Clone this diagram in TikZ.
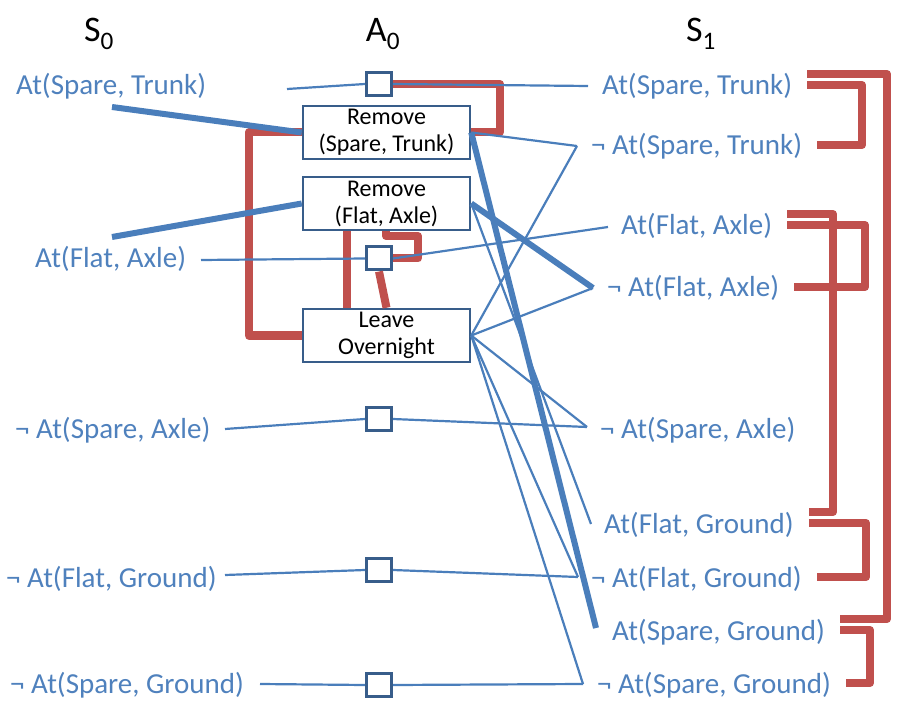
\documentclass[tikz,border=0pt]{standalone}
\usepackage{fontspec}
\setmainfont{Carlito}
\definecolor{azul}{HTML}{4A7EBB}
\definecolor{azultexto}{HTML}{4F81BD}
\definecolor{azulcaja}{HTML}{385D8A}
\definecolor{rojo}{HTML}{C0504D}
\begin{document}
\begin{tikzpicture}[x=1pt,y=-1pt]
\useasboundingbox (0,0) rectangle (913,727);
% estilos de linea y relleno
\tikzstyle{enlace} = [azul,line width=2.2pt];
\tikzstyle{enlacegr} = [azul,line width=6pt];
\tikzstyle{mutex} = [rojo,line width=8pt,line join=round];
\tikzstyle{nivel} = [font=\fontsize{36}{40}\selectfont,anchor=base];
\tikzstyle{literal} = [azultexto,font=\fontsize{29}{33}\selectfont,inner sep=0pt,anchor=base west];
\tikzstyle{accion} = [draw=azulcaja,line width=2.5pt,fill=white,minimum width=167pt,minimum height=53pt,align=center,font=\fontsize{24}{27}\selectfont,inner sep=0pt];
\tikzstyle{persist} = [draw=azulcaja,line width=3pt,fill=white,minimum width=25pt,minimum height=23pt,inner sep=0pt];
% definicion exclusion mutua entre literales de S1
% #1: nodo inicial
% #2: nodo final
% #3: abscisa del tramo vertical
% #4: separacion vertical respecto a la linea base
\newcommand{\mutexder}[4]{
\path (#1.base east) ++(15,#4) coordinate (A);
\path (#2.base east) ++(15,#4) coordinate (B);
\draw [mutex] (A) -- (#3,0 |- A) -- (#3,0 |- B) -- (B);
 }
% dibujar niveles
\node[nivel] (s0) at (99,42) {S\textsubscript{0}};
\node[nivel] (a0) at (383,42) {A\textsubscript{0}};
\node[nivel] (s1) at (701,42) {S\textsubscript{1}};
% dibujar literales de S0
\node[literal] (s0st) at (16,95) {At(Spare, Trunk)};
\node[literal] (s0fa) at (35,268) {At(Flat, Axle)};
\node[literal] (s0nsa) at (15,438) {¬ At(Spare, Axle)};
\node[literal] (s0nfg) at (6,587) {¬ At(Flat, Ground)};
\node[literal] (s0nsg) at (10,693) {¬ At(Spare, Ground)};
% dibujar literales de S1
\node[literal] (s1st) at (602,95) {At(Spare, Trunk)};
\node[literal] (s1nst) at (591,155) {¬ At(Spare, Trunk)};
\node[literal] (s1fa) at (621,235) {At(Flat, Axle)};
\node[literal] (s1nfa) at (607,297) {¬ At(Flat, Axle)};
\node[literal] (s1nsa) at (600,438) {¬ At(Spare, Axle)};
\node[literal] (s1fg) at (604,533) {At(Flat, Ground)};
\node[literal] (s1nfg) at (591,587) {¬ At(Flat, Ground)};
\node[literal] (s1sg) at (612,640) {At(Spare, Ground)};
\node[literal] (s1nsg) at (597,693) {¬ At(Spare, Ground)};
% dibujar acciones
\node[accion] (rst) at (386.5,132.5) {Remove\\(Spare, Trunk)};
\node[accion] (rfa) at (386.5,203.5) {Remove\\(Flat, Axle)};
\node[accion] (lo) at (386.5,335.5) {Leave\\Overnight};
\node[persist] (p1) at (379,84) {};
\node[persist] (p2) at (379,258.5) {};
\node[persist] (p3) at (379,419) {};
\node[persist] (p4) at (379,570) {};
\node[persist] (p5) at (379,685) {};
% extremos libres de los enlaces
\coordinate (o-st) at (287,89);
\coordinate (o-st2) at (112,107);
\coordinate (o-fa) at (201,260);
\coordinate (o-fa2) at (112,237);
\coordinate (o-nsa) at (225,429);
\coordinate (o-nfg) at (225,575);
\coordinate (o-nsg) at (260,684);
\coordinate (i-st) at (588,86);
\coordinate (i-nst) at (577,146);
\coordinate (i-fa) at (608,227);
\coordinate (i-nfa) at (593,288);
\coordinate (i-nsa) at (587,427);
\coordinate (i-fg) at (591,524);
\coordinate (i-nfg) at (578,577);
\coordinate (i-sg) at (596,628);
\coordinate (i-nsg) at (583,684);
% dibujar exclusiones mutuas
\draw[mutex] (rst.west) -- ++(-53,0) |- (lo.west);
\draw[mutex] (p1.east) -- (500,0 |- p1.east) |- (rst.east);
\draw[mutex] (347,0 |- rfa.south) -- (347,0 |- lo.north);
\draw[mutex] (p2.south) -- (lo.north);
\draw[mutex] (386,0 |- rfa.south) -- (386,236) -- (418,236) -- (418,0 |- p2.east) -- (p2.east);
\mutexder{s1st}{s1nst}{862}{-10}
\mutexder{s1st}{s1sg}{887}{-21}
\mutexder{s1fa}{s1fg}{833}{-21}
\mutexder{s1fa}{s1nfa}{865}{-10}
\mutexder{s1fg}{s1nfg}{866}{-10}
\mutexder{s1sg}{s1nsg}{870}{-10}
% dibujar enlaces
\begin{scope}
\draw[enlace] (o-st) -- (p1.west);
\draw[enlacegr] (o-st2) -- (rst.west);
\draw[enlacegr] (o-fa2) -- (rfa.west);
\draw[enlace] (o-fa) -- (p2.west);
\draw[enlace] (o-nsa) -- (p3.west);
\draw[enlace] (o-nfg) -- (p4.west);
\draw[enlace] (o-nsg) -- (p5.west);
\draw[enlace] (p1.east) -- (i-st);
\draw[enlace] (rst.east) -- (i-nst);
\draw[enlacegr] (rst.east) -- (i-sg);
\draw[enlacegr] (rfa.east) -- (i-nfa);
\draw[enlace] (rfa.east) -- (i-fg);
\draw[enlace] (p2.east) -- (i-fa);
\foreach \d in {i-nst,i-nfa,i-nsa,i-nfg,i-nsg}
  \draw[enlace] (lo.east) -- (\d);
\draw[enlace] (p3.east) -- (i-nsa);
\draw[enlace] (p4.east) -- (i-nfg);
\draw[enlace] (p5.east) -- (i-nsg);
\end{scope}
\end{tikzpicture}
\end{document}
